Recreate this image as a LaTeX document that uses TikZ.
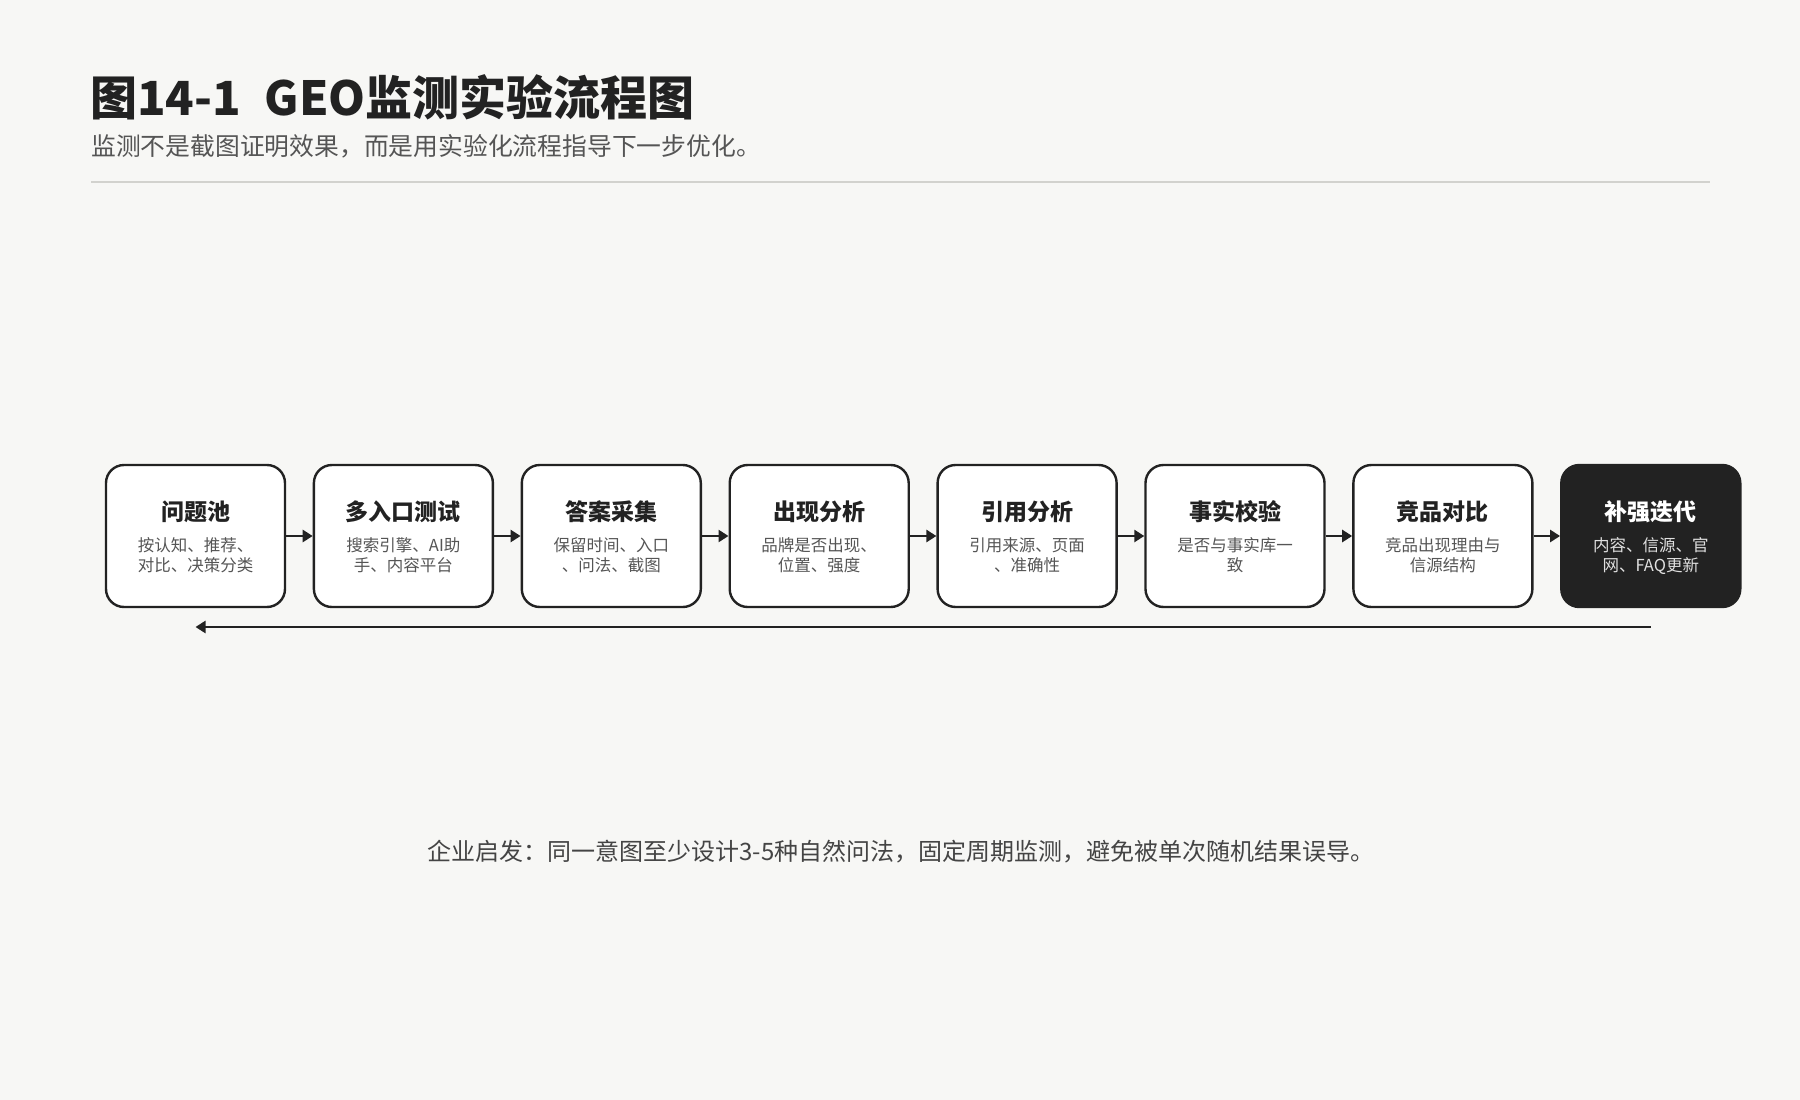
\documentclass[tikz,border=0pt]{standalone}
\usepackage{fontspec}
\setmainfont{Noto Sans CJK SC}
\usetikzlibrary{arrows.meta,positioning}
\definecolor{bgc}{HTML}{F7F7F5}
\definecolor{ink}{HTML}{222222}
\definecolor{subc}{HTML}{555555}
\definecolor{rulec}{HTML}{D2D2CE}
\definecolor{notec}{HTML}{444444}
\tikzset{
  stepbox/.style={draw=ink, line width=2.4pt, fill=white, rounded corners=18pt,
    minimum width=179pt, minimum height=142pt, inner sep=0pt},
  darkbox/.style={stepbox, fill=ink},
  flow/.style={draw=ink, line width=2.8pt, -{Triangle[length=10pt,width=12pt]}},
  boxtitle/.style={font=\fontsize{23pt}{27pt}\selectfont\bfseries, text=ink, inner sep=0pt},
  boxsub/.style={font=\fontsize{16.5pt}{20.5pt}\selectfont, text=subc, align=center, inner sep=0pt},
}
\begin{document}
\begin{tikzpicture}[x=1pt,y=-1pt]
\fill[bgc] (0,0) rectangle (1800,1100);
\useasboundingbox (0,0) rectangle (1800,1100);
\node[anchor=west, inner sep=0pt, text=ink, font=\fontsize{47pt}{55pt}\selectfont\bfseries] (title) at (90,97) {图14-1\hspace{0.5em}GEO监测实验流程图};
\node[anchor=west, inner sep=0pt, text=subc, font=\fontsize{24.8pt}{29pt}\selectfont] (subtitle) at (91,146) {监测不是截图证明效果，而是用实验化流程指导下一步优化。};
\coordinate (rl) at (91,182);
\coordinate (rr) at (1710,182);
\draw[rulec, line width=1.5pt] (rl) -- (rr);

\foreach \i/\t/\s in {
  1/问题池/{按认知、推荐、\\对比、决策分类},
  2/多入口测试/{搜索引擎、AI助\\手、内容平台},
  3/答案采集/{保留时间、入口\\、问法、截图},
  4/出现分析/{品牌是否出现、\\位置、强度},
  5/引用分析/{引用来源、页面\\、准确性},
  6/事实校验/{是否与事实库一\\致},
  7/竞品对比/{竞品出现理由与\\信源结构}} {
  \node[stepbox] (b\i) at ({195.5+207.9*(\i-1)},536) {};
  \node[boxtitle] (t\i) at ({195.5+207.9*(\i-1)},512) {\t};
  \node[boxsub, anchor=north] (s\i) at ({195.5+207.9*(\i-1)},537) {\s};
}
\node[darkbox] (b8) at ({195.5+207.9*7},536) {};
\node[boxtitle, text=white] (t8) at ({195.5+207.9*7},512) {补强迭代};
\node[boxsub, anchor=north, text=white!88!black] (s8) at ({195.5+207.9*7},537) {内容、信源、官\\网、FAQ更新};

\foreach \a/\b in {1/2,2/3,3/4,4/5,5/6,6/7,7/8}
  \draw[flow] (b\a.east) -- (b\b.west);

\coordinate (fbs) at (b8.south |- 0,627);
\coordinate (fbe) at (b1.south |- 0,627);
\draw[flow] (fbs) -- (fbe);

\node[inner sep=0pt, text=notec, font=\fontsize{24pt}{28pt}\selectfont] (note) at (901,852) {企业启发：同一意图至少设计3-5种自然问法，固定周期监测，避免被单次随机结果误导。};
\end{tikzpicture}
\end{document}
